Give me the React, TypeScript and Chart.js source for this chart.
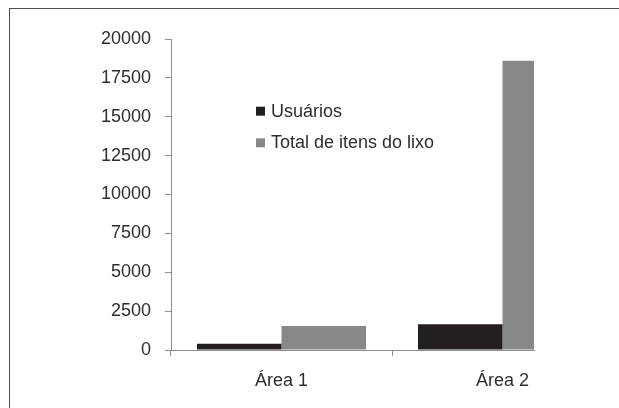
import React, { useEffect, useRef } from "react";
import { Chart, registerables } from "chart.js";

Chart.register(...registerables);

const categories = ["Área 1", "Área 2"];
const seriesNames = ["Usuários", "Total de itens do lixo"];
const usuarios = [400, 1650];
const totalItens = [1540, 18600];
const yTickValues = [0, 2500, 5000, 7500, 10000, 12500, 15000, 17500, 20000];
const yTickLabels = ["0", "2500", "5000", "7500", "10000", "12500", "15000", "17500", "20000"];

const FONT_FAMILY = '"Liberation Sans", Arial, sans-serif';
const FONT_SIZE = 18;
const TEXT_COLOR = "#2e2e2e";
const AXIS_COLOR = "#8c8c8c";
const COLORS = ["#231f20", "#87888a"];

const innerLegend = {
  id: "innerLegend",
  afterDraw(chart: any, _args: any, opts: any) {
    const { ctx, chartArea } = chart;
    ctx.save();
    ctx.font = `${FONT_SIZE}px ${FONT_FAMILY}`;
    ctx.textBaseline = "alphabetic";
    ctx.textAlign = "left";
    chart.data.datasets.forEach((ds: any, i: number) => {
      const x = chartArea.left + opts.left;
      const y = chartArea.top + opts.top + i * opts.rowGap;
      ctx.fillStyle = ds.backgroundColor;
      ctx.fillRect(x, y - 10, 9, 9);
      ctx.fillStyle = TEXT_COLOR;
      ctx.fillText(ds.label, x + 15, y);
    });
    ctx.restore();
  },
};

export default function App() {
  const ref = useRef<HTMLCanvasElement>(null);

  useEffect(() => {
    if (!ref.current) return;
    const seriesValues = [usuarios, totalItens];
    const chart = new Chart(ref.current, {
      type: "bar",
      data: {
        datasets: seriesNames.map((name, s) => ({
          label: name,
          data: categories.map((_, i) => ({ x: i + 0.5, y: seriesValues[s][i] })),
          backgroundColor: COLORS[s],
          borderWidth: 0,
          clip: 0,
          categoryPercentage: 0.765,
          barPercentage: 1,
        })),
      },
      plugins: [innerLegend],
      options: {
        responsive: false,
        animation: false,
        devicePixelRatio: 1,
        layout: { padding: { top: 30, right: 85, left: 0, bottom: 0 } },
        plugins: {
          legend: { display: false },
          tooltip: { enabled: false },
          innerLegend: { left: 85, top: 77.7, rowGap: 31.6 },
        } as any,
        scales: {
          x: {
            type: "linear",
            min: 0,
            max: 1.6425,
            offset: false,
            afterBuildTicks: (scale: any) => {
              scale.ticks = categories.map((_, i) => ({ value: i + 0.5 }));
            },
            afterFit: (scale: any) => {
              scale.height = 58;
            },
            ticks: {
              autoSkip: false,
              maxRotation: 0,
              padding: 14,
              color: TEXT_COLOR,
              font: { family: FONT_FAMILY, size: FONT_SIZE },
              callback: (_v: any, i: number) => categories[i],
            },
            grid: {
              offset: true,
              drawOnChartArea: false,
              drawTicks: true,
              tickLength: 6,
              color: AXIS_COLOR,
            },
            border: { display: true, color: AXIS_COLOR },
          },
          y: {
            type: "linear",
            min: 0,
            max: 20000,
            afterBuildTicks: (scale: any) => {
              scale.ticks = yTickValues.map((v) => ({ value: v }));
            },
            afterFit: (scale: any) => {
              scale.width = 161;
            },
            ticks: {
              padding: 14,
              color: TEXT_COLOR,
              font: { family: FONT_FAMILY, size: FONT_SIZE },
              callback: (_v: any, i: number) => yTickLabels[i],
            },
            grid: {
              drawOnChartArea: false,
              drawTicks: true,
              tickLength: 6,
              color: AXIS_COLOR,
            },
            border: { display: true, color: AXIS_COLOR },
          },
        },
      } as any,
    });
    return () => chart.destroy();
  }, []);

  return (
    <div
      style={{
        position: "fixed",
        left: 9,
        top: 8,
        width: 610,
        height: 400,
        boxSizing: "border-box",
        borderTop: "1px solid #4d4d4d",
        borderLeft: "1px solid #4d4d4d",
        background: "#ffffff",
        overflow: "hidden",
      }}
    >
      <canvas ref={ref} width={609} height={399} style={{ display: "block" }} />
    </div>
  );
}
